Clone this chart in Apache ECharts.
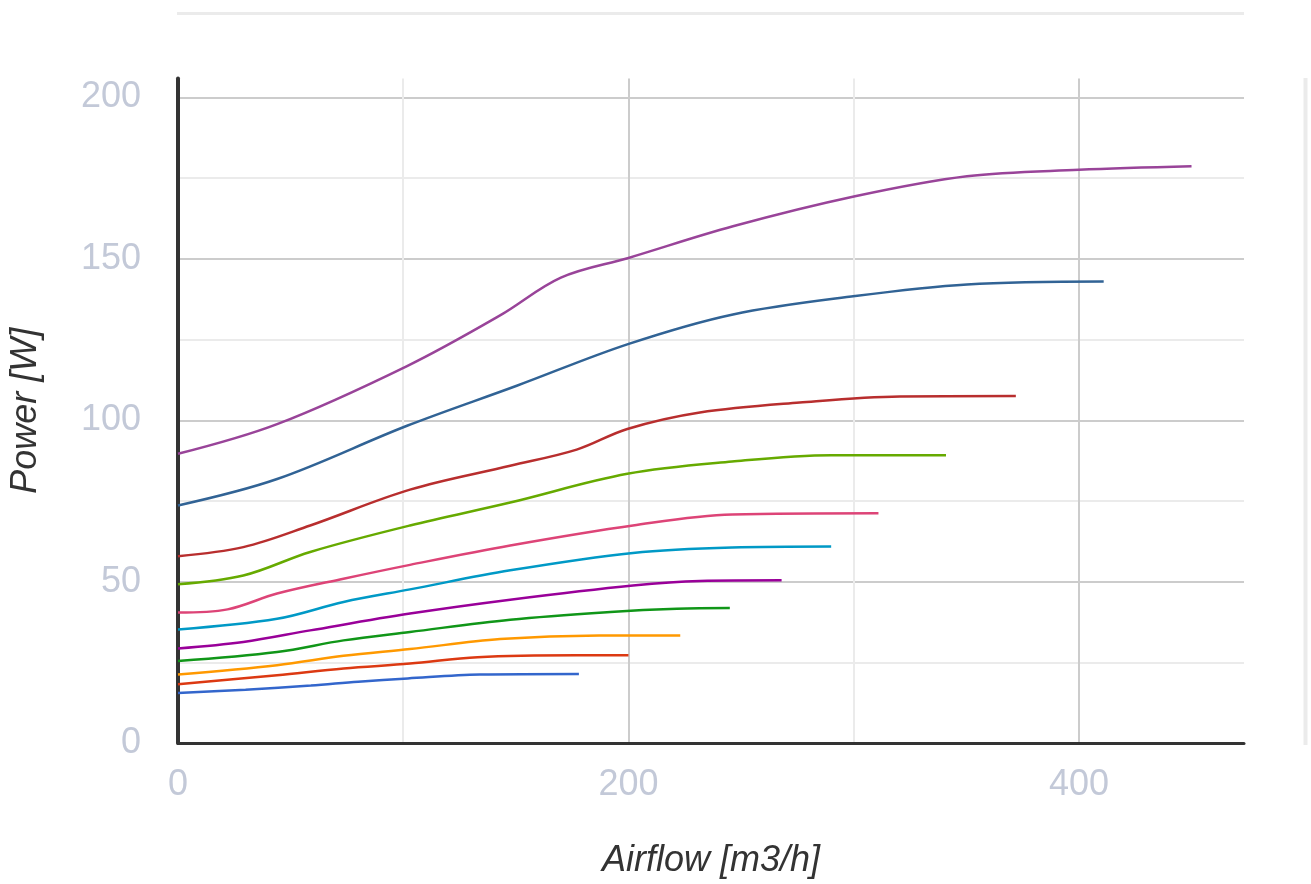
<!DOCTYPE html>
<html>
<head>
<meta charset="utf-8">
<script src="https://cdn.jsdelivr.net/npm/echarts@6/dist/echarts.min.js"></script>
<style>html,body{margin:0;padding:0;background:#fff}#c{width:1311px;height:884px}</style>
</head>
<body>
<div id="c"></div>
<script>
// Airflow [m3/h] vs Power [W], one curve per fan speed (bottom to top)
const xTicks = [0, 200, 400];
const yTicks = [0, 50, 100, 150, 200];
const colors = ['#3366cc','#dc3912','#ff9900','#109618','#990099','#0099c6','#dd4477','#66aa00','#b82e2e','#316395','#994499'];

const curve1 = [[0,15.5],[30,16.5],[59,17.8],[80,19.0],[102,20.0],[134,21.2],[178,21.4]];
const curve2 = [[0,18.2],[44,21.0],[73.5,23.1],[103,24.6],[133,26.6],[177,27.2],[200,27.2]];
const curve3 = [[0,21.2],[44,24.1],[73.5,27.0],[103,29.1],[143,32.2],[187,33.3],[223,33.3]];
const curve4 = [[0,25.4],[44,28.2],[73.5,31.8],[103,34.4],[147.5,38.2],[192,40.6],[221.5,41.6],[245,41.8]];
const curve5 = [[0,29.3],[29,31.3],[58.7,34.9],[103,40.1],[147.5,44.4],[202,48.8],[231.7,50.2],[268,50.4]];
const curve6 = [[0,35.2],[44,38.5],[73.5,43.7],[103,47.6],[147.5,53.5],[202,58.9],[246,60.6],[290,60.9]];
const curve7 = [[0,40.4],[22,41.4],[44,46.3],[73.5,50.9],[103,55.2],[147.5,61.2],[202,67.4],[246,70.8],[311,71.2]];
const curve8 = [[0,49.2],[29,51.9],[58.7,59.2],[103,67.4],[147.5,74.5],[199.5,83.4],[246,87.2],[290,89.2],[341,89.2]];
const curve9 = [[0,57.9],[29,60.7],[58.7,67.4],[103,78.5],[147.5,85.9],[177,90.9],[199.5,97.3],[231.7,102.4],[276,105.5],[320.5,107.4],[372,107.5]];
const curve10 = [[0,73.6],[44,81.8],[101.7,98.3],[150.4,110.7],[199.8,123.6],[246.4,132.8],[300.6,138.5],[350.3,142.1],[411,143]];
const curve11 = [[0,89.6],[44,98.8],[101.7,116.8],[143,132.5],[170,144.2],[200,150.3],[246.4,160.1],[300.6,169.4],[350.3,175.6],[400,177.6],[450,178.7]];

const curves = [curve1,curve2,curve3,curve4,curve5,curve6,curve7,curve8,curve9,curve10,curve11];

const chart = echarts.init(document.getElementById('c'), null, {renderer:'canvas'});
const labelStyle = {color:'#c3c9d8', fontSize:36, fontFamily:'Liberation Sans'};
const nameStyle = {color:'#333', fontSize:36, fontStyle:'italic', fontFamily:'Liberation Sans'};
chart.setOption({
  animation:false,
  color: colors,
  graphic: [
    {type:'line', shape:{x1:177, y1:13.5, x2:1244, y2:13.5}, style:{stroke:'#ebebeb', lineWidth:3}, silent:true},
    {type:'line', shape:{x1:1305.5, y1:78, x2:1305.5, y2:745}, style:{stroke:'#ebebeb', lineWidth:4}, silent:true}
  ],
  grid:{left:178, right:67, top:78.5, bottom:139.3, containLabel:false},
  xAxis:{
    type:'value', min:0, max:473.3, interval:200,
    name:'Airflow [m3/h]', nameLocation:'middle', nameGap:100, nameTextStyle:nameStyle,
    axisLine:{show:true, onZero:false, lineStyle:{color:'#333', width:3}},
    axisTick:{show:false},
    axisLabel:{...labelStyle, margin:24, showMaxLabel:false,
      formatter: v => xTicks.includes(v) ? String(v) : ''},
    splitLine:{show:true, showMaxLine:false, showMinLine:false, lineStyle:{color:'#cccccc', width:2}},
    minorTick:{show:false, splitNumber:2},
    minorSplitLine:{show:true, lineStyle:{color:'#ebebeb', width:2}}
  },
  yAxis:{
    type:'value', min:0, max:205.9, interval:50,
    name:'Power [W]', nameLocation:'middle', nameGap:134, nameTextStyle:nameStyle,
    axisLine:{show:true, onZero:false, lineStyle:{color:'#333', width:4}},
    axisTick:{show:false},
    axisLabel:{...labelStyle, margin:37, showMaxLabel:false,
      formatter: v => yTicks.includes(v) ? String(v) : ''},
    splitLine:{show:true, showMaxLine:false, showMinLine:false, lineStyle:{color:'#cccccc', width:2}},
    minorTick:{show:false, splitNumber:2},
    minorSplitLine:{show:true, lineStyle:{color:'#ebebeb', width:2}}
  },
  series: curves.map((d,i)=>({
    type:'line', data:d, smooth:0.35, showSymbol:false, symbol:'none',
    lineStyle:{width:2.5, color:colors[i]}, z:3
  }))
});
</script>
</body>
</html>
